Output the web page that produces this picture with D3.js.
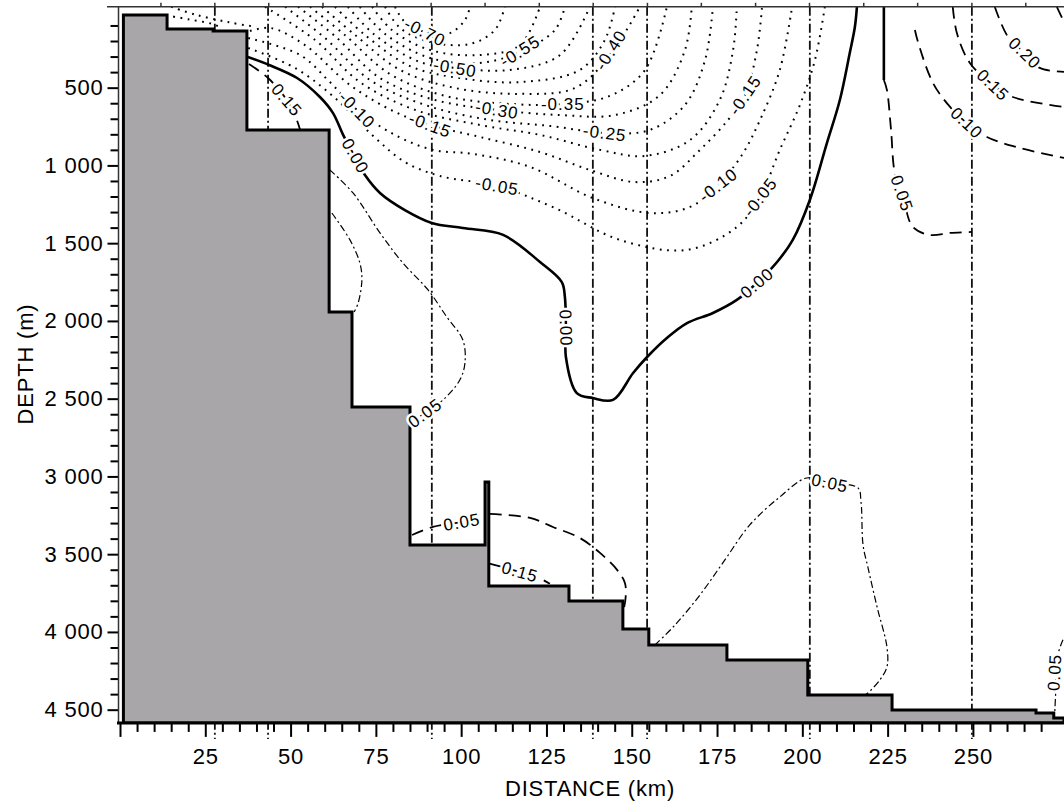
<!DOCTYPE html>
<html>
<head>
<meta charset="utf-8">
<script src="https://cdn.jsdelivr.net/npm/d3@7"></script>
<style>
body { margin: 0; background: #fff; }
svg { display: block; }
</style>
</head>
<body>
<svg id="chart" width="1064" height="803"></svg>
<script>
// ---- data (km, depth m) ----
var kmMajor = [0, 25, 50, 75, 100, 125, 150, 175, 200, 225, 250];
var depthMajor = [500, 1000, 1500, 2000, 2500, 3000, 3500, 4000, 4500];
var stationKm = [27.8, 43.4, 91.4, 138.6, 154.5, 202.2, 249.7];
var gridKm = [12, 27.8, 43.6, 59.5, 75.3, 91.2, 107, 122.9, 138.7, 154.6, 170.4, 186.3, 202.1, 218, 233.8, 249.7, 265.5];

// model bottom, one depth per cell starting at each km
var bathyKm    = [1.0, 13.8, 27.3, 37.2, 61.3, 68.0, 85.0, 107.0, 108.1, 131.6, 147.4, 155.0, 177.9, 201.6, 226.3, 268.5, 273.7, 276.7];
var bathyDepth = [33, 123, 136, 772, 1943, 2554, 3441, 3036, 3704, 3801, 3981, 4084, 4180, 4405, 4502, 4521, 4553, 4553];

// negative contours
var cM70 = [[80.6,-20],[83.5,78],[89.4,142],[96.7,149],[101.1,65],[102.6,-20]];
var cM65 = [[77.7,-20],[82.1,116],[90.9,206],[102.6,219],[109.9,129],[112.8,-20]];
var cM60 = [[73.9,-20],[79.7,129],[90.9,258],[105.5,290],[117.2,226],[123.1,-20]];
var cM55 = [[70.3,-20],[77.7,155],[90.9,309],[105.5,341],[117.2,271],[127.5,129],[130.4,-20]];
var cM50 = [[66.8,-20],[74.7,161],[87.9,335],[98.2,373],[114.3,386],[129,290],[137.7,-20]];
var cM45 = [[63,-20],[71.8,161],[85,361],[99.6,438],[117.2,464],[134.8,386],[142.1,194],[145.1,-20]];
var cM40 = [[59.2,-20],[68.9,161],[82.1,386],[98.2,502],[117.2,540],[133.4,502],[143.6,290],[152.4,-20]];
var cM35 = [[55.7,-20],[65.9,161],[79.1,412],[95.3,553],[114.3,605],[129.8,605],[143.6,553],[153.9,386],[160.3,-20]];
var cM30 = [[52.2,-20],[63,168],[76.2,438],[92.3,579],[110.5,643],[129,676],[145.1,676],[158.3,547],[165.6,258],[167.6,-20]];
var cM25 = [[48.4,-20],[60.1,181],[73.3,451],[89.4,611],[108.4,708],[126,746],[142.1,791],[155.3,772],[165.6,611],[171.5,322],[173.8,-20]];
var cM20 = [[42.5,-20],[57.2,194],[70.3,464],[86.5,643],[105.5,740],[123.1,804],[140.7,900],[153.9,939],[167.1,836],[175.8,579],[179.7,258],[180.8,-20]];
var cM15 = [[38.1,136],[44.1,116],[54.2,226],[67.4,483],[80.6,656],[90.9,740],[105.5,817],[123.1,914],[137.7,1029],[150.9,1107],[161.2,1068],[170,900],[178.2,708],[183.2,547],[186.7,258],[188.2,-20]];
var cM10 = [[37.6,181],[52.8,290],[61.5,464],[69.5,643],[80.6,804],[91.7,900],[103.5,926],[120.2,1010],[138.6,1210],[155.3,1306],[167.1,1267],[175.3,1126],[182.3,933],[187.6,708],[193.4,386],[197,-20]];
var cM05 = [[37.6,245],[51.3,373],[63,566],[73.9,804],[83.5,978],[93.8,1068],[110.5,1132],[127.5,1274],[146.5,1479],[166.2,1543],[180.8,1396],[187.6,1203],[193.4,900],[199.3,611],[203.7,322],[206.6,-20]];
// dots over the shelf top
var cM15s = [[13.5,35],[20,60],[27,90],[30,118]];
var cM20s = [[15,-20],[22,30],[32,80],[40,110]];

// zero contour
var cZero = [[37.5,303],[43.7,354],[51.9,438],[58.6,560],[62.4,662],[65.4,804],[68,914],[71.8,1062],[76.2,1177],[83.5,1287],[91.4,1370],[100.5,1403],[112.3,1447],[123.1,1621],[129.5,1750],[130.4,1846],[130.7,2059],[130.7,2232],[133.9,2464],[138.6,2496],[144.5,2508],[150.4,2335],[154.5,2232],[160.3,2110],[166.2,2014],[173.8,1949],[180.8,1865],[186.7,1756],[192.6,1621],[197.2,1479],[202.2,1222],[207.2,856],[211,579],[213.9,277],[215.4,110],[216,-20]];
var cZeroB = [[223.9,-20],[223.9,451]];

// positive contours
var cP05e = [[223.9,451],[224.8,515],[226,772],[227.1,1048],[229.5,1203],[232.4,1396],[237.4,1447],[243.3,1434],[249.7,1428]];
var cP10  = [[233,129],[233.9,206],[238.3,470],[243.3,624],[248.2,727],[254.1,817],[263.8,888],[276.7,952]];
var cP15  = [[244.1,-20],[245.3,149],[249.1,341],[255.9,483],[261.7,560],[276.7,624]];
var cP20  = [[256.4,-20],[260.3,174],[265.2,277],[269.6,373],[276.7,399]];
var cP25  = [[274.6,-20],[276.7,78]];
var cP15L = [[37.8,348],[43.4,438],[48.9,579],[51.6,695],[52.8,772]];
var cP05a = [[61.5,1029],[68.3,1177],[76.2,1434],[82.9,1627],[90.3,1801],[95.8,1975],[100.5,2123],[101.1,2271],[99.6,2380],[94.7,2508],[89.4,2592],[85.3,2650]];
var cP05b = [[62.1,1306],[67.4,1479],[70.3,1627],[70.9,1737],[69.8,1885],[68.6,1943]];
var cP05c = [[85.6,3377],[91.7,3325],[100.2,3293],[106.4,3267],[107,3262]];
var cP05d = [[108.4,3241],[120.2,3267],[126.9,3325],[134.8,3396],[140.7,3492],[145.7,3601],[148,3685],[148.2,3780],[147.5,3870]];
var cP15s = [[108.3,3560],[112.5,3585],[117.2,3614],[122,3645],[126,3690]];
var cP05f = [[156.8,4084],[162.7,3955],[170,3762],[177.3,3537],[184.6,3312],[193.4,3132],[201.3,3010],[208.1,3042],[216.3,3074],[217.2,3164],[217.8,3441],[219.2,3582],[221.9,3839],[224.8,4097],[224.8,4225],[222.7,4309],[219.2,4393],[218.4,4405]];
var cP05g = [[276.4,4051],[274.9,4148],[274.3,4373],[274,4515]];

var contours = {
  cM70: [-0.70, cM70], cM65: [-0.65, cM65], cM60: [-0.60, cM60], cM55: [-0.55, cM55],
  cM50: [-0.50, cM50], cM45: [-0.45, cM45], cM40: [-0.40, cM40], cM35: [-0.35, cM35],
  cM30: [-0.30, cM30], cM25: [-0.25, cM25], cM20: [-0.20, cM20], cM15: [-0.15, cM15],
  cM10: [-0.10, cM10], cM05: [-0.05, cM05], cM15s: [-0.15, cM15s], cM20s: [-0.20, cM20s],
  cZero: [0, cZero], cZeroB: [0, cZeroB],
  cP05e: [0.05, cP05e], cP10: [0.10, cP10], cP15: [0.15, cP15], cP20: [0.20, cP20], cP25: [0.25, cP25],
  cP15L: [0.15, cP15L], cP05a: [0.05, cP05a], cP05b: [0.05, cP05b], cP05c: [0.05, cP05c],
  cP05d: [0.05, cP05d], cP15s: [0.15, cP15s], cP05f: [0.05, cP05f], cP05g: [0.05, cP05g]
};

// label anchors: contour, km, depth
var contourLabels = [
  ["cM70", 89.4, 142], ["cM55", 117.2, 265], ["cM50", 98.2, 373], ["cM40", 143.8, 258],
  ["cM35", 129.8, 605], ["cM30", 110.5, 643], ["cM25", 142.1, 791],
  ["cM15", 90.9, 740], ["cM15", 183.2, 547], ["cM10", 69.5, 643], ["cM10", 175.3, 1126],
  ["cM05", 110.5, 1132], ["cM05", 187.6, 1203],
  ["cZero", 69, 940], ["cZero", 130.7, 2046], ["cZero", 186.7, 1756],
  ["cP05a", 89.4, 2592], ["cP05c", 100.2, 3293], ["cP15s", 117.2, 3614],
  ["cP05f", 208.1, 3042], ["cP05g", 273.9, 4260], ["cP05e", 229.2, 1180],
  ["cP10", 248.2, 727], ["cP15", 255.9, 483], ["cP20", 265.2, 277], ["cP15L", 48.9, 579]
];

// ---- drawing ----
var FONT = "'Liberation Sans', Arial, Helvetica, sans-serif";
var thin = ["cP05a", "cP05b", "cP05f", "cP05g"];

var svg = d3.select("#chart").attr("font-family", FONT);
var x = d3.scaleLinear().domain([0, 276.7]).range([120, 1064]);
var y = d3.scaleLinear().domain([-20, 4585]).range([6.8, 722.9]);

svg.append("rect").attr("width", 1064).attr("height", 803).attr("fill", "#fff");

svg.append("defs").append("clipPath").attr("id", "plot")
    .append("rect")
    .attr("x", x(0)).attr("y", y(-20))
    .attr("width", x(276.7) - x(0)).attr("height", y(4585) - y(-20));

// station lines (hidden by the bottom, they show again under the axis)
svg.append("g").selectAll("line").data(stationKm).join("line")
    .attr("x1", d => x(d)).attr("x2", d => x(d))
    .attr("y1", y(-20)).attr("y2", y(4585) + 16)
    .attr("stroke", "#111").attr("stroke-width", 1.8)
    .attr("stroke-dasharray", "9,3,2,3");

var line = d3.line()
    .x(d => x(d[0])).y(d => y(d[1]))
    .curve(d3.curveCatmullRom.alpha(0.5));

var cg = svg.append("g").attr("clip-path", "url(#plot)");
Object.keys(contours).forEach(function(name){
    var v = contours[name][0], pts = contours[name][1];
    var p = cg.append("path").datum(pts).attr("d", line)
        .attr("fill", "none").attr("stroke", "#000");
    if (v < 0) {
        p.attr("stroke-width", 2).attr("stroke-dasharray", "1.8,5.5");
    } else if (v == 0) {
        p.attr("stroke-width", 2.6);
    } else if (thin.indexOf(name) >= 0) {
        p.attr("stroke-width", 1.2).attr("stroke-dasharray", "7,3,2,3");
    } else {
        p.attr("stroke-width", 1.8).attr("stroke-dasharray", "12,7");
    }
});

// bottom topography
var bathy = bathyKm.map((k, i) => [k, bathyDepth[i]]);
var area = d3.area()
    .x(d => x(d[0])).y0(y(4585)).y1(d => y(d[1]))
    .curve(d3.curveStepAfter);
svg.append("path").datum(bathy).attr("d", area)
    .attr("clip-path", "url(#plot)")
    .attr("fill", "#a8a6a8").attr("stroke", "#000").attr("stroke-width", 3);

// contour labels
function labelAngle(pts, px, py) {
    var best = Infinity, ang = 0;
    for (var i = 0; i < pts.length - 1; i++) {
        var ax = x(pts[i][0]), ay = y(pts[i][1]),
            bx = x(pts[i+1][0]), by = y(pts[i+1][1]),
            dx = bx - ax, dy = by - ay, L = dx*dx + dy*dy;
        var t = L ? ((px-ax)*dx + (py-ay)*dy) / L : 0;
        t = Math.max(0, Math.min(1, t));
        var d = Math.pow(ax + t*dx - px, 2) + Math.pow(ay + t*dy - py, 2);
        if (d < best) { best = d; ang = Math.atan2(dy, dx) * 180 / Math.PI; }
    }
    if (ang > 90) ang -= 180;
    if (ang < -90) ang += 180;
    return ang;
}
function fmtVal(v) {
    return (v < 0 ? "-" : "") + Math.abs(v).toFixed(2);
}
svg.append("g").selectAll("text").data(contourLabels).join("text")
    .attr("transform", function(d){
        var px = x(d[1]), py = y(d[2]);
        return "translate(" + px + "," + py + ") rotate(" + labelAngle(contours[d[0]][1], px, py) + ")";
    })
    .attr("text-anchor", "middle").attr("dy", "0.35em")
    .attr("font-size", 17).attr("letter-spacing", 1)
    .attr("stroke", "#fff").attr("stroke-width", 5).attr("paint-order", "stroke")
    .attr("fill", "#000")
    .text(d => fmtVal(contours[d[0]][0]));

// ---- axes ----
var spaceFmt = d3.formatLocale({decimal: ".", thousands: " ", grouping: [3], currency: ["", ""]}).format(",");

var yAxis = svg.append("g").attr("transform", "translate(118.5,0)")
    .call(d3.axisLeft(y).tickValues(depthMajor).tickSize(11).tickPadding(4).tickFormat(spaceFmt));
var yMinor = svg.append("g").attr("transform", "translate(118.5,0)")
    .call(d3.axisLeft(y).tickValues(d3.range(100, 4600, 100).filter(d => d % 500)).tickSize(8).tickFormat(""));

var xAxis = svg.append("g").attr("transform", "translate(0," + y(4585) + ")")
    .call(d3.axisBottom(x).tickValues(kmMajor).tickSize(14).tickPadding(11).tickFormat(d => d ? d : ""));
var xMinor = svg.append("g").attr("transform", "translate(0," + y(4585) + ")")
    .call(d3.axisBottom(x).tickValues(d3.range(5, 280, 5).filter(d => d % 25)).tickSize(9).tickFormat(""));

[yAxis, yMinor, xAxis, xMinor].forEach(function(g){
    g.attr("font-family", FONT).attr("font-size", 22);
    g.select(".domain").remove();
    g.selectAll("line").attr("stroke", "#000").attr("stroke-width", 2);
    g.selectAll("text").attr("fill", "#000").attr("letter-spacing", 0.8);
});

// frame lines
svg.append("line").attr("x1", 118.5).attr("x2", 118.5).attr("y1", y(-20)).attr("y2", y(4585))
    .attr("stroke", "#333").attr("stroke-width", 1.5);
svg.append("line").attr("x1", 107).attr("x2", 1064).attr("y1", y(-20)).attr("y2", y(-20))
    .attr("stroke", "#333").attr("stroke-width", 1.5);
svg.append("line").attr("x1", 117).attr("x2", 1064).attr("y1", y(4585)).attr("y2", y(4585))
    .attr("stroke", "#000").attr("stroke-width", 3);
svg.append("g").selectAll("line").data(gridKm).join("line")
    .attr("x1", d => x(d)).attr("x2", d => x(d))
    .attr("y1", y(-20) - 4).attr("y2", y(-20))
    .attr("stroke", "#333").attr("stroke-width", 1.5);

// axis titles
svg.append("text")
    .attr("x", 590).attr("y", 796)
    .attr("text-anchor", "middle").attr("font-size", 22).attr("letter-spacing", 0.8)
    .text("DISTANCE (km)");
svg.append("text")
    .attr("transform", "translate(33,364) rotate(-90)")
    .attr("text-anchor", "middle").attr("font-size", 22).attr("letter-spacing", 0.8)
    .text("DEPTH (m)");
</script>
</body>
</html>
